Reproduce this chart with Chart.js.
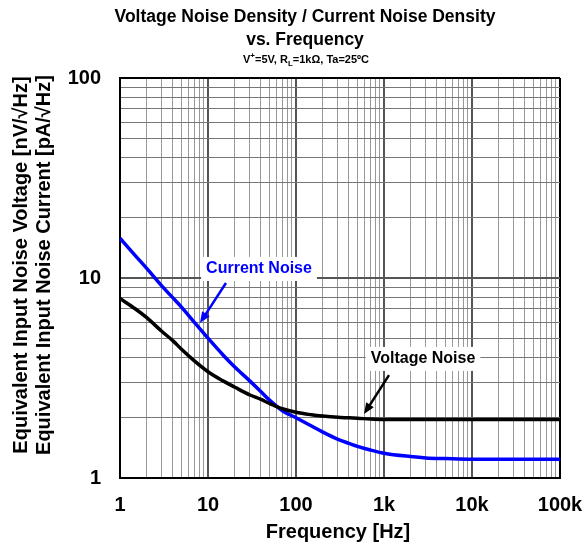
<!DOCTYPE html>
<html>
<head>
<meta charset="utf-8">
<script src="https://cdn.jsdelivr.net/npm/chart.js@4/dist/chart.umd.min.js"></script>
<style>
  html, body { margin: 0; padding: 0; background: #fff; }
</style>
</head>
<body>
<canvas id="noiseChart" width="585" height="551"></canvas>
<script>
// frequency points [Hz]
const freqs = [1, 1.5, 2, 3, 4, 5, 7, 10, 15, 20, 30, 40, 50, 70, 100, 150, 200, 300, 400, 500, 700,
               1000, 2000, 3000, 5000, 10000, 20000, 50000, 100000];
// current noise [pA/rtHz]
const currentNoise = [15.8, 12.9, 11.2, 9.1, 7.95, 7.15, 6.0, 5.0, 4.1, 3.6, 3.05, 2.7, 2.45, 2.17, 2.0, 1.82, 1.7,
                      1.56, 1.49, 1.44, 1.38, 1.33, 1.28, 1.26, 1.25, 1.24, 1.24, 1.24, 1.24];
// voltage noise [nV/rtHz]
const voltageNoise = [7.9, 7.0, 6.35, 5.4, 4.85, 4.4, 3.85, 3.4, 3.05, 2.85, 2.6, 2.47, 2.36, 2.22, 2.13, 2.07, 2.04,
                      2.01, 2.0, 1.99, 1.97, 1.96, 1.96, 1.96, 1.96, 1.96, 1.96, 1.96, 1.96];

const xTickValues = [1, 10, 100, 1000, 10000, 100000];
const xTickLabels = ['1', '10', '100', '1k', '10k', '100k'];
const yTickValues = [1, 10, 100];
const yTickLabels = ['1', '10', '100'];

// callouts, anchored in data units: [freq, value]
const currentLabel = { text: 'Current Noise', at: [38, 11.1], from: [16, 9.44], to: [8.1, 5.96], color: '#0000ff' };
const voltageLabel = { text: 'Voltage Noise', at: [2775, 3.94], from: [1140, 3.27], to: [593, 2.09], color: '#000000' };

const FONT = '"Liberation Sans", Arial, sans-serif';

// 1..9 in every decade for the grid
function decadeGrid(decades) {
    const out = [];
    for (let i = 0; i < decades.length - 1; i++) {
        for (let m = 1; m < 10; m++) out.push(decades[i] * m);
    }
    out.push(decades[decades.length - 1]);
    return out;
}

function isDecade(v) {
    const l = Math.log10(v);
    return Math.abs(l - Math.round(l)) < 1e-9;
}

function gridColor(minorColor) {
    return ctx => {
        const v = ctx.tick ? ctx.tick.value : 0;
        const s = ctx.scale;
        if (v === s.min || v === s.max) return '#000';
        return isDecade(v) ? '#555' : minorColor;
    };
}

function gridWidth(ctx) {
    const v = ctx.tick ? ctx.tick.value : 0;
    return isDecade(v) ? 2 : 1;
}

const textPlugin = {
    id: 'texts',
    afterDraw(chart) {
        const c = chart.ctx;
        c.save();
        c.fillStyle = '#000';
        c.textAlign = 'center';
        c.textBaseline = 'middle';

        // title
        c.font = 'bold 17.5px ' + FONT;
        c.fillText('Voltage Noise Density / Current Noise Density', 305, 17);
        c.fillText('vs. Frequency', 305, 40);

        // subtitle with super/subscripts
        const parts = [
            { t: 'V', size: 11, dy: 0 },
            { t: '+', size: 8, dy: -4 },
            { t: '=5V, R', size: 11, dy: 0 },
            { t: 'L', size: 8, dy: 4 },
            { t: '=1k\u03A9, Ta=25\u00BAC', size: 11, dy: 0 }
        ];
        let total = 0;
        parts.forEach(p => { c.font = 'bold ' + p.size + 'px ' + FONT; p.w = c.measureText(p.t).width; total += p.w; });
        let x = 306 - total / 2;
        c.textAlign = 'left';
        parts.forEach(p => {
            c.font = 'bold ' + p.size + 'px ' + FONT;
            c.fillText(p.t, x, 60 + p.dy);
            x += p.w;
        });

        // axis titles
        c.textAlign = 'center';
        c.font = 'bold 20px ' + FONT;
        c.fillText('Frequency [Hz]', 338, 532);
        const yTitles = ['Equivalent Input Noise Voltage [nV/\u221AHz]', 'Equivalent Input Noise Current [pA/\u221AHz]'];
        [21, 44].forEach((px, i) => {
            c.save();
            c.translate(px, 265);
            c.rotate(-Math.PI / 2);
            c.fillText(yTitles[i], 0, 0);
            c.restore();
        });

        // callouts
        const xs = chart.scales.x, ys = chart.scales.y;
        [currentLabel, voltageLabel].forEach(a => {
            const tx = xs.getPixelForValue(a.at[0]), ty = ys.getPixelForValue(a.at[1]);
            c.font = 'bold 16px ' + FONT;
            const w = c.measureText(a.text).width;
            c.fillStyle = '#fff';
            c.fillRect(tx - w / 2 - 5, ty - 12, w + 10, 24);
            c.fillStyle = a.color;
            c.fillText(a.text, tx, ty);

            const x1 = xs.getPixelForValue(a.from[0]), y1 = ys.getPixelForValue(a.from[1]);
            const x2 = xs.getPixelForValue(a.to[0]), y2 = ys.getPixelForValue(a.to[1]);
            const ang = Math.atan2(y2 - y1, x2 - x1);
            const head = 11;
            c.strokeStyle = a.color;
            c.lineWidth = 2.5;
            c.beginPath();
            c.moveTo(x1, y1);
            c.lineTo(x2 - Math.cos(ang) * head * 0.8, y2 - Math.sin(ang) * head * 0.8);
            c.stroke();
            c.beginPath();
            c.moveTo(x2, y2);
            c.lineTo(x2 - head * Math.cos(ang) + 4.5 * Math.sin(ang), y2 - head * Math.sin(ang) - 4.5 * Math.cos(ang));
            c.lineTo(x2 - head * Math.cos(ang) - 4.5 * Math.sin(ang), y2 - head * Math.sin(ang) + 4.5 * Math.cos(ang));
            c.closePath();
            c.fill();
        });
        c.restore();
    }
};

const ctx = document.getElementById('noiseChart').getContext('2d');
const noiseChart = new Chart(ctx, {
    type: 'line',
    data: {
        datasets: [{
            label: 'Voltage Noise',
            data: freqs.map((f, i) => ({ x: f, y: voltageNoise[i] })),
            borderColor: '#000000',
            borderWidth: 3.5,
            pointRadius: 0,
            cubicInterpolationMode: 'monotone'
        }, {
            label: 'Current Noise',
            data: freqs.map((f, i) => ({ x: f, y: currentNoise[i] })),
            borderColor: '#0000ff',
            borderWidth: 3.5,
            pointRadius: 0,
            cubicInterpolationMode: 'monotone'
        }]
    },
    options: {
        responsive: false,
        animation: false,
        layout: { padding: { top: 78, right: 25, bottom: 0, left: 0 } },
        plugins: {
            legend: { display: false },
            tooltip: { enabled: false }
        },
        scales: {
            x: {
                type: 'logarithmic',
                min: 1,
                max: 100000,
                afterBuildTicks: s => { s.ticks = decadeGrid(xTickValues).map(v => ({ value: v })); },
                afterFit: s => { s.height = 73; s.paddingLeft = 0; s.paddingRight = 0; },
                grid: { color: gridColor('#999'), lineWidth: gridWidth, drawTicks: false },
                border: { display: true, color: '#000', width: 2 },
                ticks: {
                    autoSkip: false,
                    maxRotation: 0,
                    minRotation: 0,
                    padding: 15,
                    color: '#000',
                    font: { family: FONT, size: 20, weight: 'bold' },
                    callback: v => { const i = xTickValues.indexOf(v); return i >= 0 ? xTickLabels[i] : ''; }
                }
            },
            y: {
                type: 'logarithmic',
                min: 1,
                max: 100,
                afterBuildTicks: s => { s.ticks = decadeGrid(yTickValues).map(v => ({ value: v })); },
                afterFit: s => { s.width = 120; s.paddingTop = 0; s.paddingBottom = 0; },
                grid: { color: gridColor('#777'), lineWidth: gridWidth, drawTicks: false },
                border: { display: true, color: '#000', width: 2 },
                ticks: {
                    autoSkip: false,
                    padding: 19,
                    color: '#000',
                    font: { family: FONT, size: 20, weight: 'bold' },
                    callback: v => { const i = yTickValues.indexOf(v); return i >= 0 ? yTickLabels[i] : ''; }
                }
            }
        }
    },
    plugins: [textPlugin]
});
</script>
</body>
</html>
